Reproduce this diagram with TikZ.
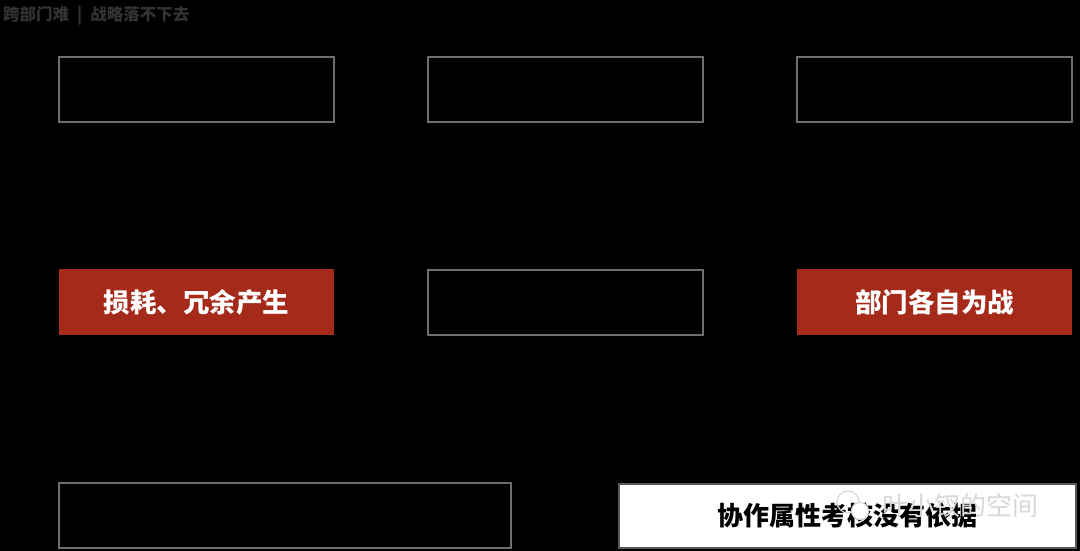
\documentclass[tikz,border=0pt]{standalone}
\usepackage{fontspec}
\newfontfamily\cjk{Noto Sans CJK SC}
\usetikzlibrary{positioning}

\definecolor{boxgrey}{HTML}{6E6E6E}
\definecolor{boxred}{HTML}{A52A1A}
\definecolor{titlegrey}{HTML}{333333}
\definecolor{markgrey}{HTML}{D8D8D8}

\begin{document}
\begin{tikzpicture}[x=1pt, y=-1pt,
	greybox/.style={draw=boxgrey, line width=2pt, minimum width=275pt, minimum height=65pt, inner sep=0pt, outer sep=0pt},
	redbox/.style={fill=boxred, text=white, minimum width=275pt, minimum height=66pt, inner sep=0pt, outer sep=0pt, font=\cjk\bfseries\fontsize{26.5}{26.5}\selectfont},
	whitebox/.style={fill=white, draw=boxgrey!80!black, line width=2pt, minimum width=457pt, minimum height=64pt, inner sep=0pt, outer sep=0pt, font=\cjk\bfseries\fontsize{26}{26}\selectfont}]
		\fill[black] (0,0) rectangle (1080,551);
		\useasboundingbox (0,0) rectangle (1080,551);
		\node[anchor=west, text=titlegrey, font=\cjk\bfseries\fontsize{16.5}{16.5}\selectfont, inner sep=0pt] (title) at (3,16) {跨部门难\hspace{8pt}|\hspace{8pt}战略落不下去};
		% top row
		\node[greybox] (a1) at (196.5,89.5) {};
		\node[greybox, right=94pt of a1] (a2) {};
		\node[greybox, right=94pt of a2] (a3) {};
		% middle row
		\node[redbox, below=147pt of a1] (b1) {损耗、冗余产生};
		\node[greybox, below=148pt of a2] (b2) {};
		\node[redbox, below=147pt of a3] (b3) {部门各自为战};
		% bottom row
		\node[greybox, minimum width=452pt, anchor=north west] (c1) at (59,483) {};
		\node[whitebox] (c2) at (847.5,516) {协作属性考核没有依据};
		% watermark
		\draw[markgrey, line width=1.2pt] (848,502) circle (11);
		\draw[markgrey, line width=1.2pt, fill=white] (860,511) circle (8.5);
		\node[text=markgrey, font=\cjk\fontsize{26}{26}\selectfont, inner sep=0pt] (mark) at (960,506) {叶小钗的空间};
	\end{tikzpicture}
\end{document}
